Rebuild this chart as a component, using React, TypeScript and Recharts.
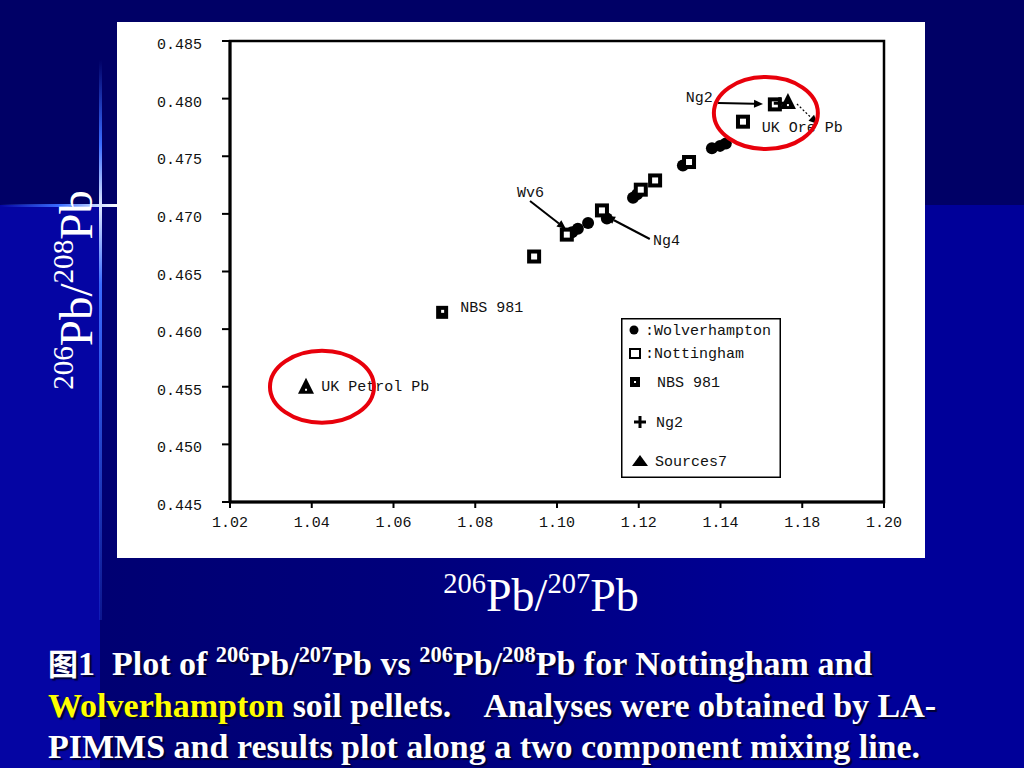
import React from 'react';
import {
  ScatterChart,
  Scatter,
  XAxis,
  YAxis,
  ReferenceLine,
  ReferenceDot,
  ReferenceArea,
} from 'recharts';

// ---- axis ticks ----
const xTicks = [1.02, 1.04, 1.06, 1.08, 1.1, 1.12, 1.14, 1.16, 1.18];
const xTickLabels = ['1.02', '1.04', '1.06', '1.08', '1.10', '1.12', '1.14', '1.18', '1.20'];
const yTicks = [0.445, 0.45, 0.455, 0.46, 0.465, 0.47, 0.475, 0.48, 0.485];
const yTickLabels = ['0.445', '0.450', '0.455', '0.460', '0.465', '0.470', '0.475', '0.480', '0.485'];

// ---- series ----
const wolverhampton = [
  { x: 1.1037, y: 0.4684 },
  { x: 1.1051, y: 0.4687 },
  { x: 1.1076, y: 0.4692 },
  { x: 1.1122, y: 0.4696 },
  { x: 1.1186, y: 0.4714 },
  { x: 1.1196, y: 0.4717 },
  { x: 1.1308, y: 0.4742 },
  { x: 1.1379, y: 0.4757 },
  { x: 1.1399, y: 0.4759 },
  { x: 1.1413, y: 0.4761 },
];
const nottingham = [
  { x: 1.0944, y: 0.4663 },
  { x: 1.1024, y: 0.4682 },
  { x: 1.111, y: 0.4703 },
  { x: 1.1205, y: 0.4721 },
  { x: 1.124, y: 0.4729 },
  { x: 1.1323, y: 0.4745 },
  { x: 1.1455, y: 0.478 },
  { x: 1.1533, y: 0.4795 },
];
const nbs981 = [{ x: 1.0719, y: 0.4615 }];
const ng2 = [{ x: 1.1545, y: 0.4796 }];
const sources7 = [
  { x: 1.0386, y: 0.455 },
  { x: 1.1565, y: 0.4797 },
];

// ---- annotations ----
const annotationTexts = [
  { x: 1.0763, y: 0.4619, text: 'NBS 981' },
  { x: 1.0423, y: 0.45506, text: 'UK Petrol Pb' },
  { x: 1.0902, y: 0.4719, text: 'Wv6' },
  { x: 1.1235, y: 0.46773, text: 'Ng4' },
  { x: 1.1315, y: 0.48014, text: 'Ng2' },
  { x: 1.1501, y: 0.47754, text: 'UK Ore Pb' },
];
const arrows = [
  { x1: 1.0934, y1: 0.47112, x2: 1.1022, y2: 0.46869, dashed: false },
  { x1: 1.1227, y1: 0.46782, x2: 1.112, y2: 0.46981, dashed: false },
  { x1: 1.1394, y1: 0.47962, x2: 1.1504, y2: 0.47953, dashed: false },
  { x1: 1.1587, y1: 0.47953, x2: 1.1638, y2: 0.4778, dashed: true },
];
const circles = [
  { x: 1.0425, y: 0.455 },
  { x: 1.1511, y: 0.47875 },
];

const MONO = '"Liberation Mono", "DejaVu Sans Mono", monospace';
const SERIF = '"Liberation Serif", "Times New Roman", serif';

const labelFor = (ticks: number[], labels: string[], v: number) => {
  const i = ticks.findIndex((t) => Math.abs(t - v) < 1e-6);
  return i >= 0 ? labels[i] : String(v);
};

const XTick = (props: any) => {
  const { x, y, payload } = props;
  return (
    <text x={x} y={y + 17} textAnchor="middle" fontFamily={MONO} fontSize={15} fill="#111">
      {labelFor(xTicks, xTickLabels, payload.value)}
    </text>
  );
};

const YTick = (props: any) => {
  const { x, y, payload } = props;
  return (
    <text x={x - 18} y={y + 8} textAnchor="end" fontFamily={MONO} fontSize={15} fill="#111">
      {labelFor(yTicks, yTickLabels, payload.value)}
    </text>
  );
};

const CircleShape = (p: any) => <circle cx={p.cx} cy={p.cy} r={6} fill="#000" />;
const SquareShape = (p: any) => (
  <g>
    <rect x={p.cx - 7} y={p.cy - 7} width={14} height={14} fill="#000" />
    <rect x={p.cx - 3} y={p.cy - 3} width={6} height={6} fill="#fff" />
  </g>
);
const NbsShape = (p: any) => (
  <g>
    <rect x={p.cx - 6} y={p.cy - 6} width={12} height={13} fill="#000" />
    <rect x={p.cx - 1} y={p.cy - 2} width={3} height={3} fill="#fff" />
  </g>
);
const PlusShape = (p: any) => (
  <g stroke="#000" strokeWidth={3}>
    <line x1={p.cx - 6} y1={p.cy} x2={p.cx + 6} y2={p.cy} />
    <line x1={p.cx} y1={p.cy - 6} x2={p.cx} y2={p.cy + 6} />
  </g>
);
const TriangleShape = (p: any) => (
  <g>
    <polygon points={`${p.cx},${p.cy - 9} ${p.cx - 8},${p.cy + 7} ${p.cx + 8},${p.cy + 7}`} fill="#000" />
    <rect x={p.cx - 1} y={p.cy + 2} width={2} height={2} fill="#fff" />
  </g>
);

const arrowShape = (dashed: boolean) => (props: any) => {
  const { x1, y1, x2, y2 } = props;
  if ([x1, y1, x2, y2].some((v) => v === undefined || isNaN(v))) return null;
  const ang = Math.atan2(y2 - y1, x2 - x1);
  const L = 9;
  const W = 4;
  const bx = x2 - L * Math.cos(ang);
  const by = y2 - L * Math.sin(ang);
  const px = -Math.sin(ang) * W;
  const py = Math.cos(ang) * W;
  return (
    <g>
      <line
        x1={x1}
        y1={y1}
        x2={bx}
        y2={by}
        stroke="#000"
        strokeWidth={dashed ? 1.2 : 2}
        strokeDasharray={dashed ? '2 2' : undefined}
      />
      <polygon points={`${x2},${y2} ${bx + px},${by + py} ${bx - px},${by - py}`} fill="#000" />
    </g>
  );
};

const textShape = (text: string) => (p: any) => (
  <text x={p.cx} y={p.cy + 5} fontFamily={MONO} fontSize={15} fill="#111">
    {text}
  </text>
);

const ellipseShape = (p: any) => (
  <ellipse cx={p.cx} cy={p.cy} rx={52} ry={36} fill="none" stroke="#e8000b" strokeWidth={4} />
);

const legendRows = [
  { kind: 'circle', label: ':Wolverhampton', y: 12, sx: 13, tx: 24 },
  { kind: 'square', label: ':Nottingham', y: 35, sx: 14, tx: 24 },
  { kind: 'nbs', label: 'NBS 981', y: 64, sx: 14, tx: 36 },
  { kind: 'plus', label: 'Ng2', y: 104, sx: 19, tx: 35 },
  { kind: 'tri', label: 'Sources7', y: 143, sx: 19, tx: 34 },
];

const LegendBox = () => (
  <svg width={160} height={160} style={{ display: 'block' }}>
    <rect x={0.75} y={0.75} width={158.5} height={158.5} fill="#fff" stroke="#000" strokeWidth={1.5} />
    {legendRows.map((r) => (
      <g key={r.label}>
        {r.kind === 'circle' && <circle cx={r.sx} cy={r.y} r={4.5} fill="#000" />}
        {r.kind === 'square' && (
          <rect x={r.sx - 5} y={r.y - 4} width={10} height={9} fill="none" stroke="#000" strokeWidth={2} />
        )}
        {r.kind === 'nbs' && (
          <g>
            <rect x={r.sx - 5} y={r.y - 5} width={10} height={10} fill="#000" />
            <rect x={r.sx - 1} y={r.y - 1} width={2} height={2} fill="#fff" />
          </g>
        )}
        {r.kind === 'plus' && (
          <g stroke="#000" strokeWidth={3}>
            <line x1={r.sx - 6} y1={r.y} x2={r.sx + 6} y2={r.y} />
            <line x1={r.sx} y1={r.y - 6} x2={r.sx} y2={r.y + 6} />
          </g>
        )}
        {r.kind === 'tri' && (
          <polygon
            points={`${r.sx},${r.y - 6} ${r.sx - 8},${r.y + 5} ${r.sx + 8},${r.y + 5}`}
            fill="#000"
          />
        )}
        <text x={r.tx} y={r.y + 5} fontFamily={MONO} fontSize={15} fill="#111">
          {r.label}
        </text>
      </g>
    ))}
  </svg>
);

const sup: React.CSSProperties = { fontSize: '0.62em', verticalAlign: '0.62em', lineHeight: 0 };
const capSup: React.CSSProperties = { fontSize: '0.66em', verticalAlign: '0.6em', lineHeight: 0 };

export default function App() {
  return (
    <div
      style={{
        position: 'absolute',
        left: 0,
        top: 0,
        width: 1024,
        height: 768,
        overflow: 'hidden',
        background: '#000099',
        fontFamily: SERIF,
      }}
    >
      {/* background bands */}
      <div style={{ position: 'absolute', left: 0, top: 0, width: 1024, height: 205, background: '#000066' }} />
      <div
        style={{
          position: 'absolute',
          left: 100,
          top: 205,
          width: 924,
          height: 563,
          background: 'linear-gradient(to right, #000072 0%, #00007c 35%, #000099 80%)',
        }}
      />
      <div style={{ position: 'absolute', left: 0, top: 205, width: 100, height: 563, background: '#0505a3' }} />
      {/* lens flare */}
      <div
        style={{
          position: 'absolute',
          left: 0,
          top: 204,
          width: 118,
          height: 3,
          background: 'linear-gradient(to right, rgba(60,110,255,0) 0%, #3a6cff 50%, #cfe0ff 85%, #ffffff 100%)',
        }}
      />
      <div
        style={{
          position: 'absolute',
          left: 99,
          top: 60,
          width: 3,
          height: 560,
          background:
            'linear-gradient(to bottom, rgba(60,110,255,0) 0%, #3a6cff 15%, #dfe8ff 26%, #3a6cff 40%, rgba(60,110,255,0.2) 100%)',
        }}
      />

      {/* y-axis title */}
      <div
        style={{
          position: 'absolute',
          left: 76,
          top: 290,
          transform: 'translate(-50%, -50%) rotate(-90deg)',
          whiteSpace: 'nowrap',
          color: '#fff',
          fontSize: 47,
          lineHeight: 1,
        }}
      >
        <span style={sup}>206</span>Pb/<span style={sup}>208</span>Pb
      </div>

      {/* chart panel */}
      <div style={{ position: 'absolute', left: 117, top: 22, width: 808, height: 536, background: '#fff' }}>
        <ScatterChart width={808} height={536} margin={{ top: 19, right: 41, left: 0, bottom: 0 }}>
          <XAxis
            type="number"
            dataKey="x"
            domain={[1.02, 1.18]}
            ticks={xTicks}
            allowDataOverflow
            height={56}
            axisLine={{ stroke: '#000', strokeWidth: 3 }}
            tickLine={{ stroke: '#000', strokeWidth: 2 }}
            tickSize={6}
            tick={<XTick />}
            interval={0}
          />
          <YAxis
            type="number"
            dataKey="y"
            domain={[0.445, 0.485]}
            ticks={yTicks}
            allowDataOverflow
            width={113}
            axisLine={{ stroke: '#000', strokeWidth: 3 }}
            tickLine={{ stroke: '#000', strokeWidth: 2 }}
            tickSize={8}
            tick={<YTick />}
            interval={0}
          />
          <ReferenceArea
            x1={1.02}
            x2={1.18}
            y1={0.445}
            y2={0.485}
            fill="none"
            stroke="#000"
            strokeWidth={2.5}
            ifOverflow="visible"
          />
          <Scatter name="Wolverhampton" data={wolverhampton} shape={CircleShape} isAnimationActive={false} />
          <Scatter name="Nottingham" data={nottingham} shape={SquareShape} isAnimationActive={false} />
          <Scatter name="NBS 981" data={nbs981} shape={NbsShape} isAnimationActive={false} />
          <Scatter name="Ng2" data={ng2} shape={PlusShape} isAnimationActive={false} />
          <Scatter name="Sources7" data={sources7} shape={TriangleShape} isAnimationActive={false} />
          {arrows.map((a, i) => (
            <ReferenceLine
              key={'a' + i}
              segment={[
                { x: a.x1, y: a.y1 },
                { x: a.x2, y: a.y2 },
              ]}
              shape={arrowShape(a.dashed)}
              ifOverflow="visible"
            />
          ))}
          {annotationTexts.map((t) => (
            <ReferenceDot key={t.text} x={t.x} y={t.y} r={0} shape={textShape(t.text)} ifOverflow="visible" />
          ))}
          {circles.map((c, i) => (
            <ReferenceDot key={'c' + i} x={c.x} y={c.y} shape={ellipseShape} ifOverflow="visible" />
          ))}
        </ScatterChart>
        {/* legend box */}
        <div style={{ position: 'absolute', left: 504, top: 296 }}>
          <LegendBox />
        </div>
      </div>

      {/* x-axis title */}
      <div
        style={{
          position: 'absolute',
          left: 541,
          top: 573,
          transform: 'translateX(-50%)',
          whiteSpace: 'nowrap',
          color: '#fff',
          fontSize: 46,
          lineHeight: 1,
        }}
      >
        <span style={sup}>206</span>Pb/<span style={sup}>207</span>Pb
      </div>

      {/* caption */}
      <div
        style={{
          position: 'absolute',
          left: 48,
          top: 642,
          width: 980,
          color: '#fff',
          fontWeight: 'bold',
          fontSize: 34,
          lineHeight: '41.5px',
          whiteSpace: 'nowrap',
          textShadow: '2px 2px 1px #000033',
        }}
      >
        <div>
          <span style={{ fontFamily: '"Noto Sans CJK SC", sans-serif', fontWeight: 700, fontSize: 30 }}>图</span>1&nbsp; Plot of{' '}
          <span style={capSup}>206</span>Pb/<span style={capSup}>207</span>Pb vs <span style={capSup}>206</span>Pb/
          <span style={capSup}>208</span>Pb for Nottingham and
        </div>
        <div>
          <span style={{ color: '#ffff00' }}>Wolverhampton</span> soil pellets.&nbsp;&nbsp;&nbsp; Analyses were
          obtained by LA-
        </div>
        <div>PIMMS and results plot along a two component mixing line.</div>
      </div>
    </div>
  );
}
